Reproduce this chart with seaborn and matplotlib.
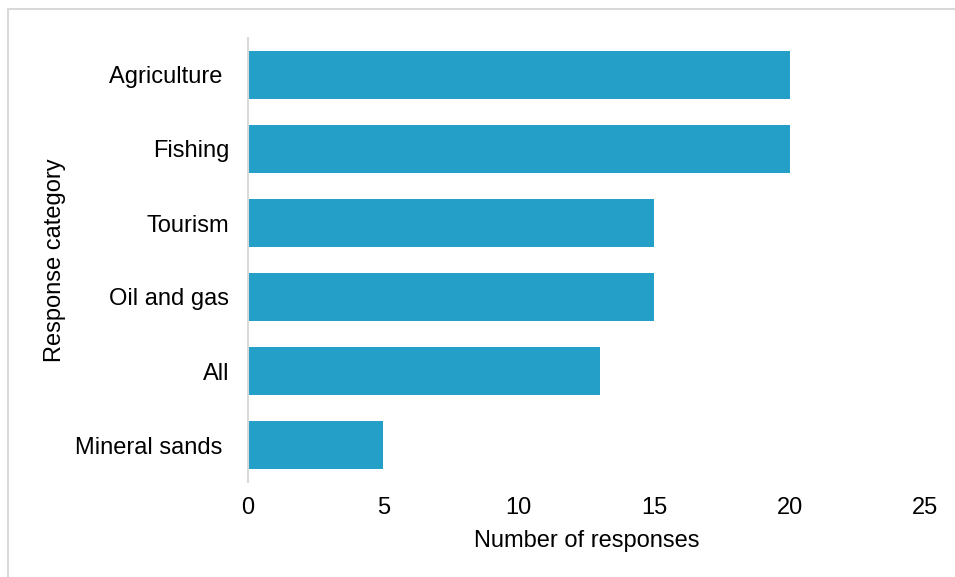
import matplotlib
matplotlib.use("Agg")
import matplotlib.pyplot as plt
import seaborn as sns
import pandas as pd
from matplotlib.patches import Rectangle

categories = ["Agriculture ", "Fishing", "Tourism", "Oil and gas", "All", "Mineral sands "]
responses = [20, 20, 15, 15, 13, 5]
xticks = [0, 5, 10, 15, 20, 25]

sns.set_theme(style="white")
plt.rcParams["font.family"] = ["Liberation Sans", "DejaVu Sans"]

df = pd.DataFrame({"category": categories, "responses": responses})

fig = plt.figure(figsize=(9.55, 5.77), dpi=100)
ax = fig.add_axes([248/955, 1-482/577, (925-248)/955, (482-38)/577])

sns.barplot(data=df, y="category", x="responses", orient="h", color="#249fc7",
            saturation=1, width=0.66, linewidth=0, edgecolor="none", ax=ax)

ax.set_xlim(0, 25)
ax.set_xticks(xticks)
ax.set_xticklabels([str(t) for t in xticks])
ax.set_ylim(5.5, -0.5)
ax.tick_params(axis="both", length=0, labelsize=17, colors="black", labelcolor="black")
ax.tick_params(axis="y", pad=13.5)
ax.tick_params(axis="x", pad=10.5)
for s in ["top", "right", "bottom"]:
    ax.spines[s].set_visible(False)
ax.spines["left"].set_color("#d9d9d9")
ax.spines["left"].set_linewidth(1.5)
ax.set_xlabel("Number of responses", fontsize=17, labelpad=8, color="black")
ax.set_ylabel("Response category", fontsize=17, labelpad=6.5, color="black")

fig.patches.append(Rectangle((8/955, -0.05), 1.05, 1.05-9/577, transform=fig.transFigure,
                             fill=False, edgecolor="#d9d9d9", linewidth=1.5))

fig.savefig("out.png", dpi=100)
